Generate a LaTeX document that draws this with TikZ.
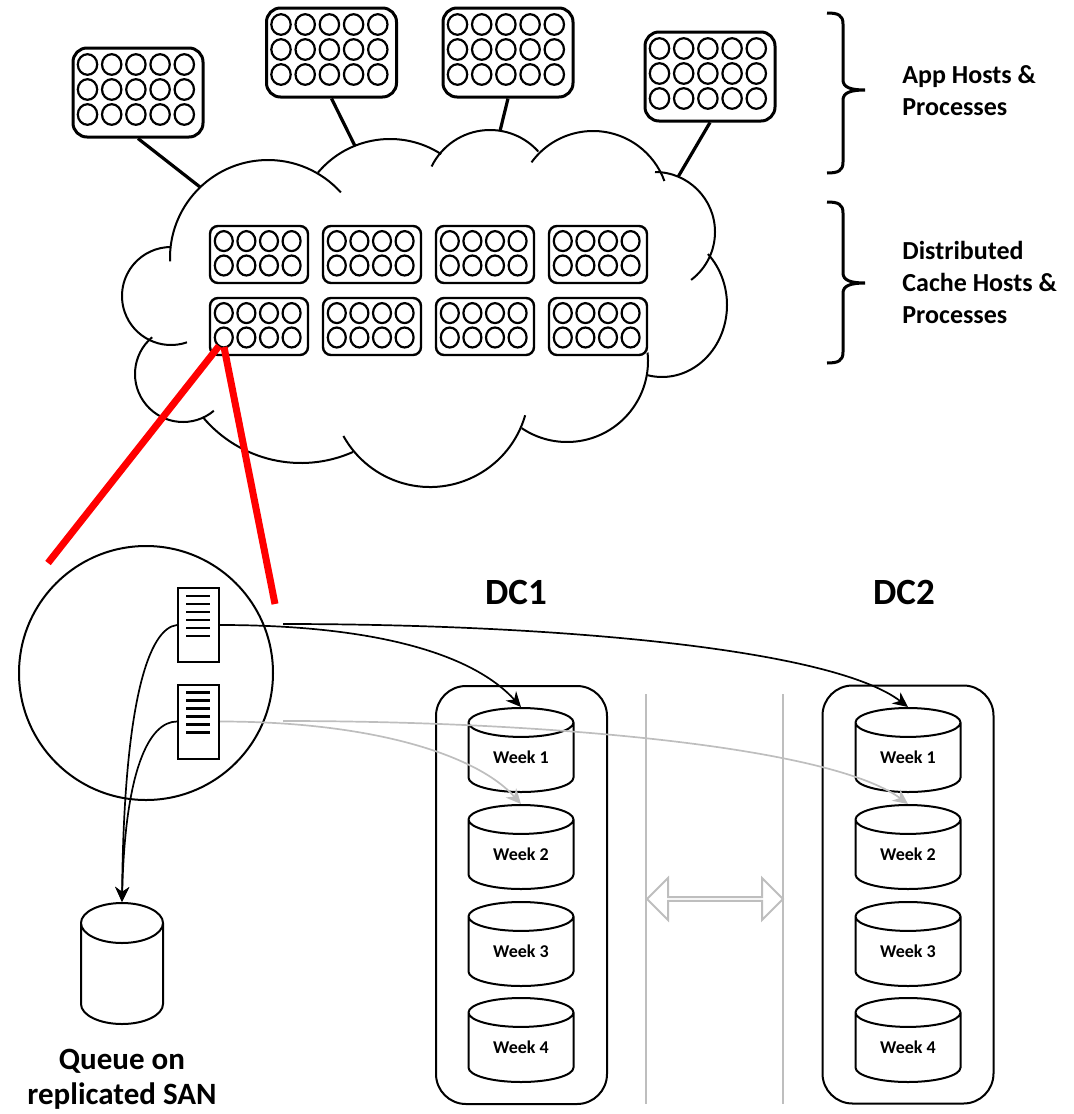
\documentclass[tikz,border=0pt]{standalone}
\usepackage{fontspec}
\setmainfont{Carlito}
\usetikzlibrary{shapes.geometric,shapes.arrows,calc,arrows.meta}
\definecolor{zoomred}{RGB}{255,0,0}
\definecolor{syncgray}{RGB}{190,190,190}

\begin{document}
\begin{tikzpicture}[x=0.5pt,y=-0.5pt,>={Stealth[length=7.5pt,width=7pt]},
	hostbox/.style={draw,line width=1.5pt,rounded corners=7pt,minimum width=65pt,minimum height=44.5pt,inner sep=0pt},
	cachebox/.style={draw,line width=1.2pt,rounded corners=4pt,minimum width=49pt,minimum height=28.5pt,inner sep=0pt},
	hostdot/.style={line width=1.1pt},
	lobe/.style={line width=1pt},
	uplink/.style={line width=1.6pt},
	zoomline/.style={draw=zoomred,line width=3.5pt},
	docbox/.style={draw,line width=1pt,minimum width=20.5pt,minimum height=37pt,inner sep=0pt},
	dbstore/.style={draw,cylinder,shape border rotate=90,aspect=0.52,anchor=shape center,line width=1pt,minimum width=52.5pt,minimum height=42pt,inner sep=0pt,font=\fontsize{9}{11}\selectfont\bfseries},
	dcbox/.style={draw,line width=1pt,rounded corners=15pt,minimum width=85.5pt,minimum height=209pt,inner sep=0pt},
	feed/.style={->,line width=0.85pt},
	feedgray/.style={feed,draw=syncgray},
	syncline/.style={draw=syncgray,line width=1pt},
	bracket/.style={line width=1.5pt},
	bold/.style={inner sep=0pt,font=\fontsize{#1}{16}\selectfont\bfseries}]
	\useasboundingbox (0,0) rectangle (1073,1114);
	% cloud
	\foreach \cx/\cy/\rx/\ry/\sa/\ea in {268/258/98/98/178/318,390/233/94/94/220/303,
		490/195/65/65/206/318,593/207/76/76/216/340,655/232/60/60/270/413,
		662/305/65/72/-45/103,567/361/81/81/-6/124,430/388/99/99/16/151,
		301/335/128/128/66/140,183/374/48/48/50/230,171/296/49/49/71/270}
		\draw[lobe,shift={(\cx,\cy)}] ({\rx*cos(\sa)},{\ry*sin(\sa)}) arc[start angle=\sa,end angle=\ea,x radius=\rx,y radius=\ry];
	% app hosts
	\foreach \n/\hx/\hy in {appa/138/92.5,appb/331.5/52.5,appc/508/52.5,appd/710/76.5}{
		\node[hostbox] (\n) at (\hx,\hy) {};
		\foreach \i in {0,...,4}
			\foreach \j in {0,1,2}
				\draw[hostdot] ($(\n.north west)+(16+24.2*\i,18+25*\j)$) ellipse[x radius=9.7,y radius=10.3];
	}
	% cache hosts
	\foreach \r/\by in {1/254.5,2/326.5}
		\foreach \c/\bx in {1/259,2/372,3/485,4/598}{
			\node[cachebox] (cache\r\c) at (\bx,\by) {};
			\foreach \i in {0,...,3}
				\foreach \j in {0,1}
					\draw[hostdot] ($(cache\r\c.north west)+(15+22.6*\i,16.3+24.4*\j)$) ellipse[x radius=9,y radius=10];
		}
	\coordinate (cla) at (200,187);
	\coordinate (clb) at (355,146);
	\coordinate (clc) at (500,131);
	\coordinate (cld) at (678,177);
	\draw[uplink] (appa.south) -- (cla);
	\draw[uplink] (appb.south) -- (clb);
	\draw[uplink] (appc.south) -- (clc);
	\draw[uplink] (appd.south) -- (cld);
	% braces and labels
	\draw[bracket] (827,13) .. controls (838,13) and (843,15) .. (843,24) -- (843,80)
		.. controls (843,87) and (850,90) .. (865,90) .. controls (850,90) and (843,93) .. (843,100)
		-- (843,162) .. controls (843,171) and (838,173) .. (827,173);
	\draw[bracket] (827,202) .. controls (838,202) and (843,204) .. (843,213) -- (843,273)
		.. controls (843,280) and (850,283) .. (865,283) .. controls (850,283) and (843,286) .. (843,293)
		-- (843,352) .. controls (843,361) and (838,363) .. (827,363);
	\node[bold=13,anchor=west,align=left] (applbl) at (902,91) {App Hosts \&\\Processes};
	\node[bold=13,anchor=west,align=left] (cachelbl) at (902,282) {Distributed\\Cache Hosts \&\\Processes};
	% zoom onto one cache process
	\coordinate (zoomtopl) at (219,346);
	\coordinate (zoomtopr) at (224,347);
	\coordinate (zoomleft) at (48,563);
	\coordinate (zoomright) at (275,604);
	\draw[zoomline] (zoomtopl) -- (zoomleft);
	\draw[zoomline] (zoomtopr) -- (zoomright);
	\node[draw,circle,line width=1pt,minimum size=127pt,inner sep=0pt] (mag) at (146,673) {};
	\foreach \n/\dy in {doca/625,docb/721.5}{
		\node[docbox] (\n) at (198.5,\dy) {};
		\foreach \k in {0,...,5}
			\draw[line width=1.1pt] ($(\n.north west)+(9,9+8*\k)$) -- +(24,0);
	}
	% queue
	\node[dbstore,aspect=0.5,minimum width=41pt,minimum height=60.5pt] (queue) at (122,963.5) {\hspace*{40pt}};
	\node[bold=15.5,align=center,font=\fontsize{15.5}{17.5}\selectfont\bfseries] (queuelbl) at (122,1079.5) {Queue on\\replicated SAN};
	% data centres
	\draw[syncline] (646,694) -- (646,1104);
	\draw[syncline] (783,694) -- (783,1104);
	\node[double arrow,draw=syncgray,fill=white,line width=1pt,minimum height=68pt,minimum width=21pt,
		double arrow head extend=5.25pt,inner sep=0pt] (sync) at (715,899) {};
	\node[dcbox] (dca) at (521.5,895) {};
	\node[dcbox] (dcb) at (908,894.5) {};
	\node[bold=18.5] (dcalbl) at (516,592) {DC1};
	\node[bold=18.5] (dcblbl) at (904,592) {DC2};
	\foreach \k/\wy in {1/750,2/847,3/944,4/1040}{
		\node[dbstore] (wka\k) at (521,\wy) {Week \k};
		\node[dbstore] (wkb\k) at (908,\wy) {Week \k};
	}
	% feeds
	\coordinate (tapa) at (283,624);
	\coordinate (tapb) at (283,721);
	\draw[feed] (doca.east) .. controls +(150,0) and +(-50,-55) .. (wka1.north);
	\draw[feed] (tapa) .. controls +(267,0) and +(-77,-59) .. (wkb1.north);
	\draw[feedgray] (docb.east) .. controls +(150,0) and +(-45,-50) .. (wka2.north);
	\draw[feedgray] (tapb) .. controls +(267,0) and +(-77,-57) .. (wkb2.north);
	\draw[feed] (doca.west) .. controls +(-28,3) and +(2,-202) .. (queue.north);
	\draw[feed] (docb.west) .. controls +(-28,0) and +(3,-132) .. (queue.north);
\end{tikzpicture}
\end{document}
